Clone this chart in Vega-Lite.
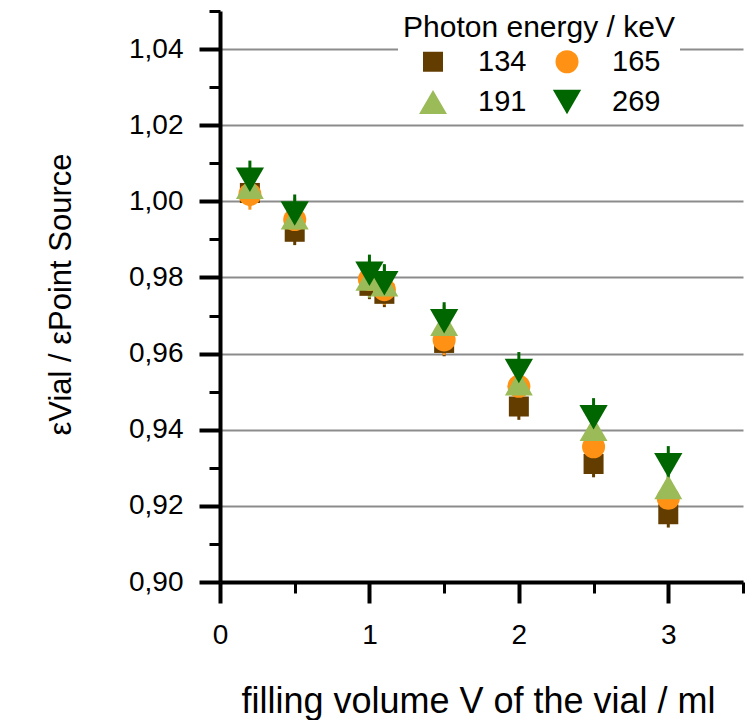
{
  "$schema": "https://vega.github.io/schema/vega-lite/v6.json",
  "width": 523,
  "height": 571,
  "autosize": {"type": "none"},
  "padding": {"left": 220, "top": 11, "right": 6, "bottom": 138},
  "background": "white",
  "config": {
    "font": "Liberation Sans",
    "view": {"stroke": null},
    "axis": {
      "labelColor": "black",
      "titleColor": "black",
      "domainColor": "black",
      "tickColor": "black",
      "labelFont": "Liberation Sans",
      "titleFont": "Liberation Sans",
      "titleFontWeight": "normal",
      "labelFlush": false,
      "labelOverlap": false
    },
    "legend": {
      "titleFont": "Liberation Sans",
      "labelFont": "Liberation Sans",
      "titleFontSize": 30,
      "titleFontWeight": "normal",
      "titleColor": "black",
      "labelColor": "black",
      "labelFontSize": 29,
      "titleLimit": 500,
      "titleAnchor": "middle",
      "titlePadding": 4,
      "padding": 5,
      "fillColor": "white",
      "columnPadding": 22,
      "rowPadding": 9,
      "labelOffset": 30,
      "symbolOpacity": 1
    }
  },
  "data": {
    "values": [
      {"V": 0.2, "energy": "134", "ratio": 1.0022, "err": 0.0035},
      {"V": 0.5, "energy": "134", "ratio": 0.9920, "err": 0.0035},
      {"V": 1.0, "energy": "134", "ratio": 0.9778, "err": 0.0035},
      {"V": 1.1, "energy": "134", "ratio": 0.9757, "err": 0.0035},
      {"V": 1.5, "energy": "134", "ratio": 0.9628, "err": 0.0035},
      {"V": 2.0, "energy": "134", "ratio": 0.9461, "err": 0.0035},
      {"V": 2.5, "energy": "134", "ratio": 0.9310, "err": 0.0035},
      {"V": 3.0, "energy": "134", "ratio": 0.9178, "err": 0.0035},
      {"V": 0.2, "energy": "165", "ratio": 1.0018, "err": 0.004},
      {"V": 0.5, "energy": "165", "ratio": 0.9952, "err": 0.004},
      {"V": 1.0, "energy": "165", "ratio": 0.9795, "err": 0.004},
      {"V": 1.1, "energy": "165", "ratio": 0.9768, "err": 0.004},
      {"V": 1.5, "energy": "165", "ratio": 0.9636, "err": 0.004},
      {"V": 2.0, "energy": "165", "ratio": 0.9514, "err": 0.004},
      {"V": 2.5, "energy": "165", "ratio": 0.9355, "err": 0.004},
      {"V": 3.0, "energy": "165", "ratio": 0.9220, "err": 0.004},
      {"V": 0.2, "energy": "191", "ratio": 1.0038, "err": 0.005},
      {"V": 0.5, "energy": "191", "ratio": 0.9958, "err": 0.005},
      {"V": 1.0, "energy": "191", "ratio": 0.9797, "err": 0.005},
      {"V": 1.1, "energy": "191", "ratio": 0.9782, "err": 0.005},
      {"V": 1.5, "energy": "191", "ratio": 0.9678, "err": 0.005},
      {"V": 2.0, "energy": "191", "ratio": 0.9522, "err": 0.005},
      {"V": 2.5, "energy": "191", "ratio": 0.9402, "err": 0.005},
      {"V": 3.0, "energy": "191", "ratio": 0.9249, "err": 0.005},
      {"V": 0.2, "energy": "269", "ratio": 1.0057, "err": 0.005},
      {"V": 0.5, "energy": "269", "ratio": 0.9968, "err": 0.005},
      {"V": 1.0, "energy": "269", "ratio": 0.9810, "err": 0.005},
      {"V": 1.1, "energy": "269", "ratio": 0.9785, "err": 0.005},
      {"V": 1.5, "energy": "269", "ratio": 0.9685, "err": 0.005},
      {"V": 2.0, "energy": "269", "ratio": 0.9554, "err": 0.005},
      {"V": 2.5, "energy": "269", "ratio": 0.9433, "err": 0.005},
      {"V": 3.0, "energy": "269", "ratio": 0.9307, "err": 0.005}
    ]
  },
  "layer": [
    {
      "transform": [{"filter": "datum.energy == '134'"}],
      "mark": {"type": "errorbar", "thickness": 3, "ticks": false, "color": "#633c00"},
      "encoding": {
        "x": {
          "field": "V",
          "type": "quantitative",
          "scale": {"domain": [0, 3.5], "nice": false, "zero": false},
          "axis": {
            "orient": "bottom",
            "values": [0.5, 1.5, 2.5, 3.5],
            "tickSize": 11,
            "tickWidth": 3,
            "labels": false,
            "domain": false,
            "grid": false,
            "title": null
          }
        },
        "y": {
          "field": "ratio",
          "type": "quantitative",
          "scale": {"domain": [0.9, 1.05], "nice": false, "zero": false},
          "axis": {
            "orient": "left",
            "values": [0.91, 0.93, 0.95, 0.97, 0.99, 1.01, 1.03, 1.05],
            "tickSize": 11,
            "tickWidth": 3,
            "labels": false,
            "domain": false,
            "grid": false,
            "title": null
          }
        },
        "yError": {"field": "err"}
      }
    },
    {
      "transform": [{"filter": "datum.energy == '165'"}],
      "mark": {"type": "errorbar", "thickness": 3, "ticks": false, "color": "#ff9214"},
      "encoding": {
        "x": {"field": "V", "type": "quantitative", "axis": null},
        "y": {"field": "ratio", "type": "quantitative", "axis": null},
        "yError": {"field": "err"}
      }
    },
    {
      "transform": [{"filter": "datum.energy == '191'"}],
      "mark": {"type": "errorbar", "thickness": 3, "ticks": false, "color": "#9bbb59"},
      "encoding": {
        "x": {"field": "V", "type": "quantitative", "axis": null},
        "y": {"field": "ratio", "type": "quantitative", "axis": null},
        "yError": {"field": "err"}
      }
    },
    {
      "transform": [{"filter": "datum.energy == '269'"}],
      "mark": {"type": "errorbar", "thickness": 3, "ticks": false, "color": "#006600"},
      "encoding": {
        "x": {"field": "V", "type": "quantitative", "axis": null},
        "y": {"field": "ratio", "type": "quantitative", "axis": null},
        "yError": {"field": "err"}
      }
    },
    {
      "mark": {"type": "point", "filled": true, "opacity": 1},
      "encoding": {
        "x": {
          "field": "V",
          "type": "quantitative",
          "axis": {
            "orient": "bottom",
            "values": [0, 1, 2, 3],
            "format": "d",
            "tickSize": 21,
            "tickWidth": 4,
            "domainWidth": 4,
            "labelFontSize": 28,
            "labelPadding": 18,
            "grid": false,
            "title": "filling volume V of the vial / ml",
            "titleFontSize": 36,
            "titleX": 258,
            "titleY": 130,
            "titleAlign": "center",
            "titleBaseline": "alphabetic"
          }
        },
        "y": {
          "field": "ratio",
          "type": "quantitative",
          "axis": {
            "orient": "left",
            "values": [0.9, 0.92, 0.94, 0.96, 0.98, 1.0, 1.02, 1.04],
            "labelExpr": "replace(format(datum.value, '.2f'), '.', ',')",
            "tickSize": 21,
            "tickWidth": 4,
            "domainWidth": 4,
            "labelFontSize": 28,
            "labelPadding": 16,
            "grid": true,
            "gridColor": "#8c8c8c",
            "gridWidth": 2,
            "title": "εVial / εPoint Source",
            "titleFontSize": 31,
            "titleAngle": 270,
            "titleX": -150,
            "titleY": 283,
            "titleAlign": "center",
            "titleBaseline": "alphabetic"
          }
        },
        "color": {
          "field": "energy",
          "type": "nominal",
          "scale": {"domain": ["134", "165", "191", "269"], "range": ["#633c00", "#ff9214", "#9bbb59", "#006600"]},
          "legend": {
            "title": "Photon energy / keV",
            "orient": "none",
            "direction": "horizontal",
            "legendX": 178,
            "legendY": -3,
            "columns": 2
          }
        },
        "shape": {
          "field": "energy",
          "type": "nominal",
          "scale": {"domain": ["134", "165", "191", "269"], "range": ["square", "circle", "triangle-up", "triangle-down"]},
          "legend": {
            "title": "Photon energy / keV",
            "orient": "none",
            "direction": "horizontal",
            "legendX": 178,
            "legendY": -3,
            "columns": 2
          }
        },
        "size": {
          "field": "energy",
          "type": "ordinal",
          "scale": {"type": "ordinal", "domain": ["134", "165", "191", "269"], "range": [400, 530, 780, 800]},
          "legend": {
            "title": "Photon energy / keV",
            "orient": "none",
            "direction": "horizontal",
            "legendX": 178,
            "legendY": -3,
            "columns": 2
          }
        }
      }
    }
  ],
  "resolve": {"axis": {"x": "independent", "y": "independent"}}
}
